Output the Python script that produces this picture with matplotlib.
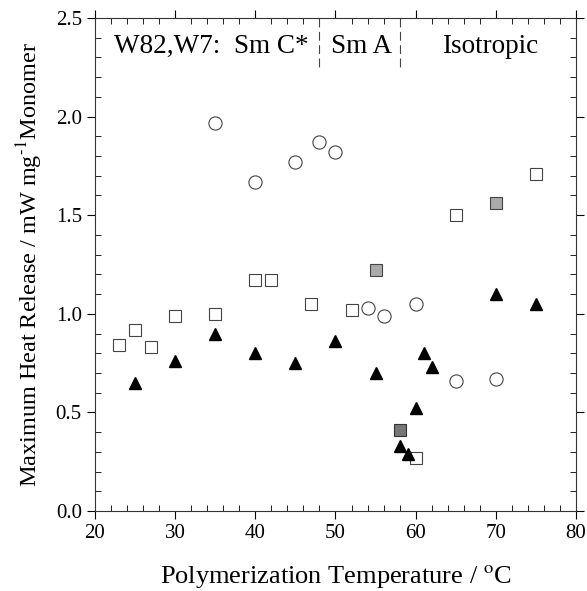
import matplotlib
matplotlib.use("Agg")
import matplotlib.pyplot as plt
from matplotlib.ticker import MultipleLocator, FormatStrFormatter

plt.rcParams["font.family"] = "Liberation Serif"
plt.rcParams["mathtext.fontset"] = "stix"

# circles
circ_T = [35, 40, 45, 48, 50, 54, 56, 60, 65, 70]
circ_H = [1.97, 1.67, 1.77, 1.87, 1.82, 1.03, 0.99, 1.05, 0.66, 0.67]

# open squares
sq_T = [23, 25, 27, 30, 35, 40, 42, 47, 52, 60, 65, 75]
sq_H = [0.84, 0.92, 0.83, 0.99, 1.00, 1.17, 1.17, 1.05, 1.02, 0.27, 1.50, 1.71]

# shaded squares
sq_grey_T = [55, 70]
sq_grey_H = [1.22, 1.56]
sq_dark_T = [58]
sq_dark_H = [0.41]

# filled triangles
tri_T = [25, 30, 35, 40, 45, 50, 55, 58, 59, 60, 61, 62, 70, 75]
tri_H = [0.65, 0.76, 0.90, 0.80, 0.75, 0.86, 0.70, 0.33, 0.29, 0.52, 0.80, 0.73, 1.10, 1.05]

phase_bounds = [48, 58]
phase_labels = ["W82,W7:  Sm C*", "Sm A", "Isotropic"]
phase_x = [34.5, 53.2, 69.3]

fig = plt.figure(figsize=(5.87, 5.91), dpi=100)
ax = fig.add_axes([95/587, 1-511/591, (576-95)/587, (511-18)/591])

ax.plot(circ_T, circ_H, "o", ms=9.5, mfc="white", mec="#444", mew=0.8, ls="none")
ax.plot(sq_T, sq_H, "s", ms=8, mfc="white", mec="#444", mew=0.8, ls="none")
ax.plot(sq_grey_T, sq_grey_H, "s", ms=8, mfc="#aaaaaa", mec="#444", mew=0.8, ls="none")
ax.plot(sq_dark_T, sq_dark_H, "s", ms=8, mfc="#777777", mec="#333", mew=0.8, ls="none")
ax.plot(tri_T, tri_H, "^", ms=9, mfc="black", mec="black", ls="none")

for xb in phase_bounds:
    ax.plot([xb, xb], [2.5, 2.23], color="#444", lw=0.8, dashes=(8, 4))
for lab, xp in zip(phase_labels, phase_x):
    ax.text(xp, 2.355, lab, ha="center", va="center", fontsize=19.5)

ax.set_xlim(20, 80)
ax.set_ylim(0, 2.5)
ax.xaxis.set_major_locator(MultipleLocator(10))
ax.xaxis.set_minor_locator(MultipleLocator(2))
ax.yaxis.set_major_locator(MultipleLocator(0.5))
ax.yaxis.set_minor_locator(MultipleLocator(0.1))
ax.yaxis.set_major_formatter(FormatStrFormatter("%.1f"))

ax.tick_params(which="major", direction="out", length=6, width=0.8, labelsize=15,
               top=True, right=True)
ax.tick_params(which="minor", direction="in", length=4, width=0.6, top=True, right=True)
for s in ax.spines.values():
    s.set_linewidth(0.8)
    s.set_color("#333")

ax.set_xlabel(r"Polymerization Temperature / $^{\rm o}$C", fontsize=19, labelpad=14)
ax.set_ylabel(r"Maximum Heat Release / mW mg$^{\text{-1}}$Monomer", fontsize=17.5, labelpad=8)

fig.savefig("out.png", dpi=100)
